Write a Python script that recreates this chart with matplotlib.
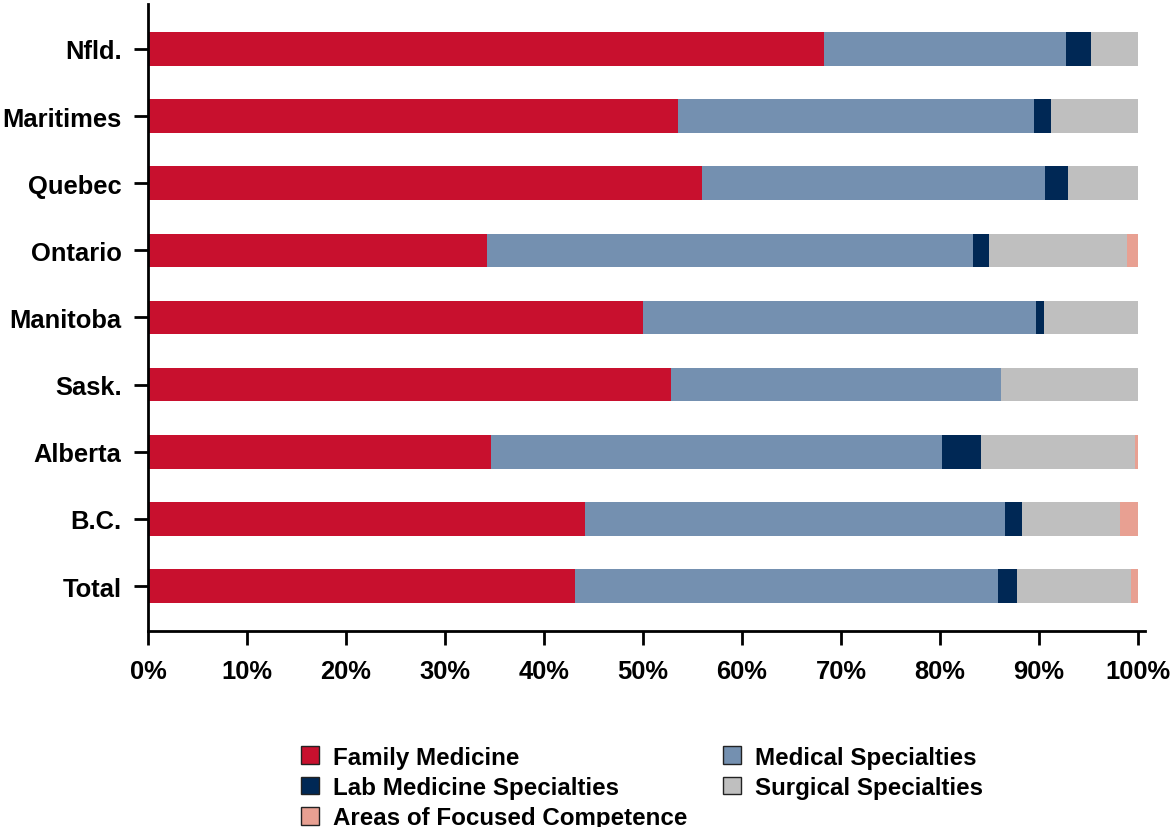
import numpy as np
import matplotlib.pyplot as plt
from matplotlib.patches import Patch

plt.rcParams['font.family'] = ['Liberation Sans', 'DejaVu Sans']
plt.rcParams['font.weight'] = 'bold'

regions = ['Nfld.', 'Maritimes', 'Quebec', 'Ontario', 'Manitoba', 'Sask.', 'Alberta', 'B.C.', 'Total']

# shares in percent
family = [68.3, 53.5, 56.0, 34.2, 50.0, 52.8, 34.6, 44.1, 43.1]
medical = [24.4, 36.0, 34.6, 49.1, 39.7, 33.4, 45.6, 42.5, 42.8]
lab = [2.5, 1.7, 2.3, 1.6, 0.8, 0.0, 3.9, 1.7, 1.9]
afc = [0.0, 0.0, 0.0, 1.1, 0.0, 0.0, 0.3, 1.8, 0.7]
surgical = [100 - f - m - l - a for f, m, l, a in zip(family, medical, lab, afc)]

series = [
    ('Family Medicine', family, '#C8102E'),
    ('Medical Specialties', medical, '#7490B0'),
    ('Lab Medicine Specialties', lab, '#002855'),
    ('Surgical Specialties', surgical, '#BFBFBF'),
    ('Areas of Focused Competence', afc, '#E8A092'),
]

fig = plt.figure(figsize=(11.71, 8.28), dpi=100)
ax = fig.add_axes([0.1264, 0.2367, 0.8514, 0.7573])

y = np.arange(len(regions))
left = np.zeros(len(regions))
for name, vals, col in series:
    ax.barh(y, vals, left=left, height=0.5, color=col, label=name)
    left += np.array(vals)

ax.set_ylim(len(regions) - 1 + 0.67, -0.67)
ax.set_xlim(0, 100.7)
ax.set_yticks(y)
ax.set_yticklabels(regions, fontsize=18.4, fontweight='bold')
ax.set_xticks(np.arange(0, 101, 10))
ax.set_xticklabels(['{}%'.format(v) for v in range(0, 101, 10)], fontsize=18.4, fontweight='bold')
ax.tick_params(axis='both', direction='out', length=10, width=2, colors='black')
ax.tick_params(axis='x', pad=10)
ax.tick_params(axis='y', pad=9)
for s in ['top', 'right']:
    ax.spines[s].set_visible(False)
for s in ['left', 'bottom']:
    ax.spines[s].set_linewidth(2)

# legend in the order of the reference (row-major across 2 columns)
order = [0, 2, 4, 1, 3]
handles = [Patch(facecolor=series[i][2], edgecolor='#222222', linewidth=1) for i in order]
labels = [series[i][0] for i in order]
fig.legend(handles, labels, ncol=2, loc='upper left', bbox_to_anchor=(0.249, 0.11),
           frameon=False, prop={'size': 17.4, 'weight': 'bold'},
           handlelength=0.75, handleheight=0.75, handletextpad=0.55,
           columnspacing=1.5, labelspacing=0.3, borderaxespad=0)

fig.savefig('out.png', dpi=100)
